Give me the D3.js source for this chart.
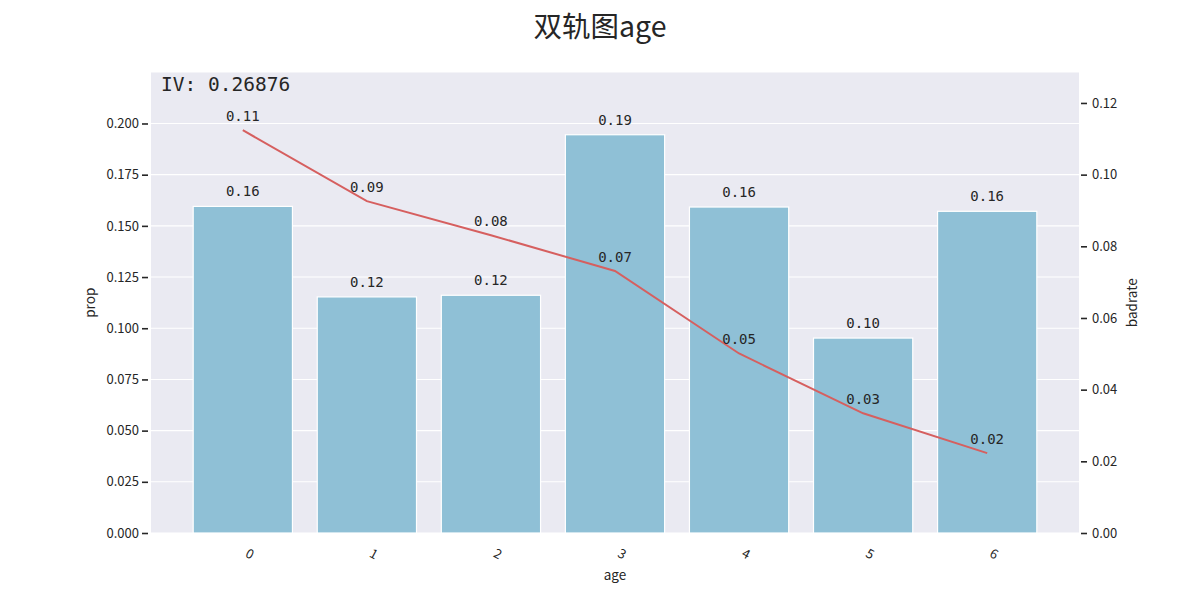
<!DOCTYPE html>
<html>
<head>
<meta charset="utf-8">
<script src="https://cdn.jsdelivr.net/npm/d3@7"></script>
<style>
	body { margin: 0; background: #fff; }
	.tick text { font-family: "Noto Sans CJK SC", "Noto Sans", sans-serif; font-size: 13px; fill: #262626; }
	.axis-label { font-family: "Noto Sans CJK SC", "Noto Sans", sans-serif; font-size: 13.5px; fill: #262626; }
	.val { font-family: "DejaVu Sans Mono", monospace; font-size: 14px; fill: #262626; }
</style>
</head>
<body>
<div id="chart"></div>
<script>
// data
var categories = ["0", "1", "2", "3", "4", "5", "6"];
var prop = [0.1595, 0.1153, 0.1161, 0.1945, 0.1592, 0.0952, 0.1571];
var badrate = [0.1124, 0.0926, 0.0831, 0.0731, 0.0501, 0.0334, 0.0223];
var propTicks = [0, 0.025, 0.05, 0.075, 0.1, 0.125, 0.15, 0.175, 0.2];
var rateTicks = [0, 0.02, 0.04, 0.06, 0.08, 0.1, 0.12];
var ivText = "IV: 0.26876";
var titleText = "双轨图age";

//SVG setup
var W = 1200, H = 600;
var margin = { top: 72.5, right: 121, bottom: 67, left: 151 };
var width = W - margin.left - margin.right;
var height = H - margin.top - margin.bottom;

var svg = d3.select("#chart").append("svg")
	.attr("width", W)
	.attr("height", H);

var g = svg.append("g")
	.attr("transform", "translate(" + margin.left + "," + margin.top + ")");

//Scales (category positions, bars are 0.8 wide, with matplotlib-like margins)
var x = d3.scaleLinear().domain([-0.74, categories.length - 1 + 0.74]).range([0, width]);
var barW = 0.8;
var y0 = d3.scaleLinear().domain([0, 0.2249]).range([height, 0]);
var y1 = d3.scaleLinear().domain([0, 0.1285]).range([height, 0]);

//background + grid
g.append("rect").attr("width", width).attr("height", height).attr("fill", "#eaeaf2");
g.selectAll(".grid").data(propTicks).enter().append("line")
	.attr("x1", 0).attr("x2", width)
	.attr("y1", function(d) { return y0(d); })
	.attr("y2", function(d) { return y0(d); })
	.attr("stroke", "#fff").attr("stroke-width", 1.1);

//bars
g.selectAll(".bar").data(prop).enter().append("rect")
	.attr("x", function(d, i) { return x(i - barW / 2); })
	.attr("width", x(barW) - x(0))
	.attr("y", function(d) { return y0(d); })
	.attr("height", function(d) { return height - y0(d); })
	.attr("fill", "#8fc0d6")
	.attr("stroke", "#fff")
	.attr("stroke-width", 1.2);

var fmt = d3.format(".2f");
g.selectAll(".barval").data(prop).enter().append("text")
	.attr("class", "val")
	.attr("x", function(d, i) { return x(i); })
	.attr("y", function(d) { return y0(d) - 10; })
	.attr("text-anchor", "middle")
	.text(function(d) { return fmt(d); });

//line
var line = d3.line()
	.x(function(d, i) { return x(i); })
	.y(function(d) { return y1(d); });
g.append("path").datum(badrate)
	.attr("d", line)
	.attr("fill", "none")
	.attr("stroke", "#d65f5f")
	.attr("stroke-width", 2);

g.selectAll(".lineval").data(badrate).enter().append("text")
	.attr("class", "val")
	.attr("x", function(d, i) { return x(i); })
	.attr("y", function(d) { return y1(d) - 9; })
	.attr("text-anchor", "middle")
	.text(function(d) { return fmt(d); });

//IV text
g.append("text")
	.attr("x", 10).attr("y", 18.5)
	.attr("font-family", "DejaVu Sans Mono, monospace")
	.attr("font-size", "19.5px")
	.attr("fill", "#262626")
	.text(ivText);

//left axis
var left = g.append("g")
	.attr("class", "y0 axis")
	.call(d3.axisLeft(y0).tickValues(propTicks).tickFormat(d3.format(".3f")).tickSize(6).tickPadding(4));
left.select(".domain").remove();
left.selectAll(".tick line").attr("x1", -3).attr("x2", -9).attr("stroke", "#262626").attr("stroke-width", 1.6);
left.selectAll(".tick text").attr("x", -12);

//right axis
var right = g.append("g")
	.attr("class", "y1 axis")
	.attr("transform", "translate(" + width + ",0)")
	.call(d3.axisRight(y1).tickValues(rateTicks).tickFormat(d3.format(".2f")).tickSize(6));
right.select(".domain").remove();
right.selectAll(".tick line").attr("x1", 2).attr("x2", 8).attr("stroke", "#262626").attr("stroke-width", 1.6);
right.selectAll(".tick text").attr("x", 13);

//x tick labels, slanted
g.selectAll(".xlab").data(categories).enter().append("text")
	.attr("class", "tick-x")
	.attr("transform", function(d, i) {
		return "translate(" + (x(i) + 7) + "," + (height + 21) + ") rotate(28)";
	})
	.attr("text-anchor", "middle")
	.attr("dy", "0.35em")
	.attr("font-family", "Noto Sans CJK SC, sans-serif")
	.attr("font-size", "13px")
	.attr("fill", "#262626")
	.text(function(d) { return d; });

//axis labels
g.append("text").attr("class", "axis-label")
	.attr("x", width / 2).attr("y", height + 47)
	.attr("text-anchor", "middle")
	.text("age");
g.append("text").attr("class", "axis-label")
	.attr("transform", "translate(-56," + (height / 2) + ") rotate(-90)")
	.attr("text-anchor", "middle")
	.text("prop");
g.append("text").attr("class", "axis-label")
	.attr("transform", "translate(" + (width + 58) + "," + (height / 2) + ") rotate(-90)")
	.attr("text-anchor", "middle")
	.text("badrate");

//title
svg.append("text")
	.attr("x", W / 2).attr("y", 37)
	.attr("text-anchor", "middle")
	.attr("font-family", "Noto Sans CJK SC, sans-serif")
	.attr("font-size", "28.5px")
	.attr("fill", "#262626")
	.text(titleText);
</script>
</body>
</html>
